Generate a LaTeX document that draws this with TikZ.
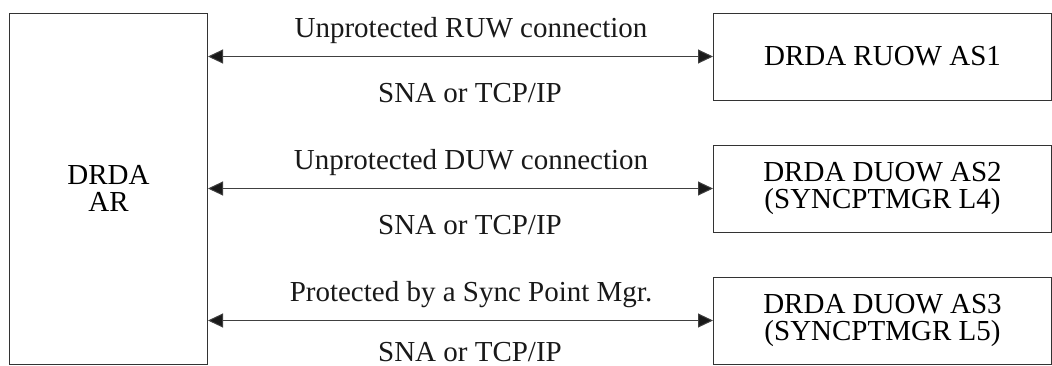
\documentclass[tikz,border=0pt]{standalone}
\usepackage{fontspec}
\setmainfont{Liberation Serif}
\usetikzlibrary{arrows.meta}
\begin{document}
\begin{tikzpicture}[x=1pt,y=-1pt,
  box/.style={draw=black!80,line width=1pt,inner sep=0pt,align=center,
    font=\fontsize{29}{27}\selectfont},
  link/.style={draw=black!75,line width=1pt,
    {Triangle[length=15pt,width=14pt,fill=black!90]}-{Triangle[length=15pt,width=14pt,fill=black!90]}},
  lbl/.style={font=\fontsize{29}{27}\selectfont,text=black!90,inner sep=0pt,anchor=base}]
\useasboundingbox (0,0) rectangle (1052,365);
% application requester
\node[box,minimum width=198pt,minimum height=351pt] (ar) at (108.5,188.5) {DRDA\\AR};
% application servers
\node[box,minimum width=338pt,minimum height=87pt] (as1) at (882.5,56.5) {DRDA RUOW AS1};
\node[box,minimum width=338pt,minimum height=87pt] (as2) at (882.5,188.5) {DRDA DUOW AS2\\(SYNCPTMGR L4)};
\node[box,minimum width=338pt,minimum height=87pt] (as3) at (882.5,320.5) {DRDA DUOW AS3\\(SYNCPTMGR L5)};
% connections
\draw[link] (ar.east |- as1.west) -- (as1.west);
\draw[link] (ar.east |- as2.west) -- (as2.west);
\draw[link] (ar.east |- as3.west) -- (as3.west);
% connection labels
\node[lbl] (t1) at (471,37) {Unprotected RUW connection};
\node[lbl] (b1) at (470,102) {SNA or TCP/IP};
\node[lbl] (t2) at (471,169) {Unprotected DUW connection};
\node[lbl] (b2) at (470,234) {SNA or TCP/IP};
\node[lbl] (t3) at (471,301) {Protected by a Sync Point Mgr.};
\node[lbl] (b3) at (470,361) {SNA or TCP/IP};
\end{tikzpicture}
\end{document}
